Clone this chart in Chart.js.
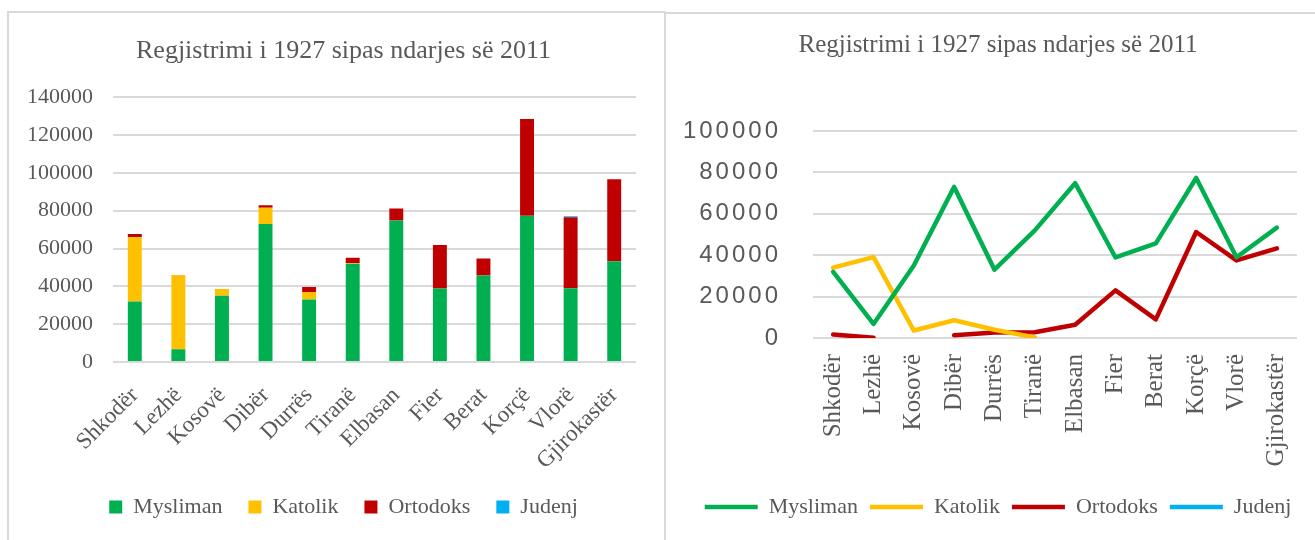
<!DOCTYPE html>
<html>
<head>
<meta charset="utf-8">
<script src="https://cdn.jsdelivr.net/npm/chart.js@4.4.1/dist/chart.umd.min.js"></script>
<style>
  body { margin: 0; background: #fff; width: 1315px; height: 540px; overflow: hidden; position: relative; }
  .panel { position: absolute; box-sizing: border-box; border: 2px solid #d9d9d9; border-bottom: none; background: #fff; }
  #p1 { left: 7px; top: 11px; width: 659px; height: 529px; }
  #p2 { left: 664px; top: 12px; width: 680px; height: 528px; }
  canvas { display: block; }
</style>
</head>
<body>
<div class="panel" id="p1"><canvas id="bar_chart"></canvas></div>
<div class="panel" id="p2"><canvas id="line_chart"></canvas></div>
<script>
// të dhënat (1927, sipas ndarjes së 2011)
const qarqet = ['Shkodër', 'Lezhë', 'Kosovë', 'Dibër', 'Durrës', 'Tiranë', 'Elbasan', 'Fier', 'Berat', 'Korçë', 'Vlorë', 'Gjirokastër'];
const mysliman = [32000, 6800, 35000, 73000, 33000, 52000, 74800, 38900, 45700, 77300, 39000, 53300];
const katolik = [34000, 39100, 3600, 8600, 4000, 300, null, null, null, null, null, null];
const ortodoks = [1700, 100, null, 1300, 2700, 2800, 6400, 23000, 9000, 51200, 37500, 43300];
const judenj = [null, null, null, null, null, null, null, null, null, null, 600, null];
const titulli = 'Regjistrimi i 1927 sipas ndarjes së 2011';

const seriesNames = ['Mysliman', 'Katolik', 'Ortodoks', 'Judenj'];
const seriesColors = ['#00b050', '#ffc000', '#c00000', '#00b0f0'];
const seriesData = [mysliman, katolik, ortodoks, judenj];

const serif = "'Liberation Serif', serif";
const gray = '#595959';
Chart.defaults.color = gray;
Chart.defaults.animation = false;

// pa presje te numrat e boshtit
const plain = (v) => String(v);

// bosht bosh djathtas, vetëm për të lënë hapësirë
const spacer = (w) => ({
    position: 'right',
    display: true,
    grid: { display: false },
    border: { display: false },
    ticks: { display: false },
    afterFit: (s) => { s.width = w; }
});

// hapësirë mes shifrave te boshti y i grafikut të dytë
const spacedTicks = {
    id: 'spacedTicks',
    beforeDraw(chart) {
        const s = chart.scales.y;
        if (s && !s._spaced) {
            const orig = s.drawLabels;
            s.drawLabels = function (area) {
                this.ctx.save();
                this.ctx.letterSpacing = '3px';
                orig.call(this, area);
                this.ctx.restore();
            };
            s._spaced = true;
        }
    }
};

const c1 = document.getElementById('bar_chart');
c1.width = 669; c1.height = 527;
c1.style.width = '669px'; c1.style.height = '527px';
new Chart(c1.getContext('2d'), {
    type: 'bar',
    data: {
        labels: qarqet,
        datasets: seriesNames.map((n, i) => ({
            label: n,
            data: seriesData[i],
            backgroundColor: seriesColors[i],
            borderWidth: 0,
            categoryPercentage: 1,
            barPercentage: 0.32
        }))
    },
    options: {
        responsive: false,
        layout: { padding: { left: 0, right: 0, top: 0, bottom: 12 } },
        scales: {
            x: {
                stacked: true,
                grid: { display: false },
                border: { display: false },
                ticks: { font: { family: serif, size: 23 }, color: gray, minRotation: 45, maxRotation: 45, autoSkip: false, padding: 12 },
                afterFit: (s) => { s.height = 108; }
            },
            y: {
                stacked: true,
                min: 0, max: 140000,
                ticks: { stepSize: 20000, font: { family: serif, size: 22 }, color: gray, padding: 20, callback: plain },
                grid: { color: '#d9d9d9', lineWidth: 2, drawTicks: false },
                border: { display: false },
                afterFit: (s) => { s.width = 104; }
            },
            y2: spacer(42)
        },
        plugins: {
            title: {
                display: true,
                text: titulli,
                color: gray,
                font: { family: serif, size: 26, weight: 'normal' },
                padding: { top: 23, bottom: 30 }
            },
            legend: {
                position: 'bottom',
                labels: {
                    color: gray,
                    font: { family: serif, size: 22 },
                    boxWidth: 13, boxHeight: 13,
                    padding: 26
                }
            },
            tooltip: { enabled: false }
        }
    }
});

const c2 = document.getElementById('line_chart');
c2.width = 664; c2.height = 526;
c2.style.width = '664px'; c2.style.height = '526px';
new Chart(c2.getContext('2d'), {
    type: 'line',
    data: {
        labels: qarqet,
        datasets: seriesNames.map((n, i) => ({
            label: n,
            data: seriesData[i],
            borderColor: seriesColors[i],
            backgroundColor: seriesColors[i],
            borderWidth: 4.5,
            borderCapStyle: n === 'Judenj' ? 'butt' : 'round',
            borderJoinStyle: 'round',
            pointRadius: 0,
            pointStyle: 'line',
            tension: 0,
            spanGaps: false
        }))
    },
    options: {
        responsive: false,
        layout: { padding: { left: 0, right: 0, top: 0, bottom: 12 } },
        scales: {
            x: {
                grid: { display: false },
                border: { display: false },
                offset: true,
                ticks: { font: { family: serif, size: 25 }, color: gray, minRotation: 90, maxRotation: 90, autoSkip: false, padding: 8 },
                afterFit: (s) => { s.height = 146; }
            },
            y: {
                min: 0, max: 100000,
                ticks: { stepSize: 20000, font: { family: "'Liberation Sans', sans-serif", size: 24 }, color: gray, padding: 32, callback: plain },
                grid: { color: '#d9d9d9', lineWidth: 2, drawTicks: false },
                border: { display: false },
                afterFit: (s) => { s.width = 147; }
            },
            y2: spacer(33)
        },
        plugins: {
            title: {
                display: true,
                text: titulli,
                color: gray,
                font: { family: serif, size: 25, weight: 'normal' },
                padding: { top: 16, bottom: 71 }
            },
            legend: {
                position: 'bottom',
                labels: {
                    color: gray,
                    font: { family: serif, size: 22 },
                    usePointStyle: true,
                    pointStyleWidth: 53,
                    boxHeight: 10,
                    padding: 12
                }
            },
            tooltip: { enabled: false }
        }
    },
    plugins: [spacedTicks]
});
</script>
</body>
</html>
